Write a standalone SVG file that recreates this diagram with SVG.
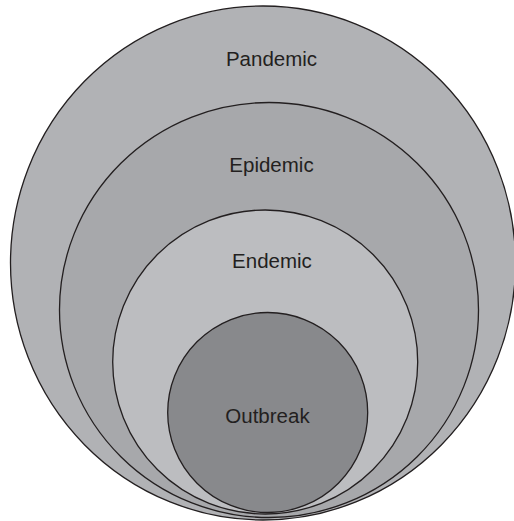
<svg xmlns="http://www.w3.org/2000/svg" width="514" height="521" viewBox="0 0 514 521">
<style>
.c{stroke:#231f20;stroke-width:1.3}
.t{font-family:"Liberation Sans",Arial,sans-serif;font-size:20.5px;fill:#231f20;text-anchor:middle}
</style>
<rect width="514" height="521" fill="#ffffff"/>
<g id="pandemic">
<ellipse class="c" cx="263" cy="263" rx="252.5" ry="257" fill="#b1b2b5"/>
<text class="t" x="271.5" y="66">Pandemic</text>
</g>
<g id="epidemic">
<ellipse class="c" cx="269" cy="310" rx="209.5" ry="207.5" fill="#a7a8ab"/>
<text class="t" x="271.5" y="172">Epidemic</text>
</g>
<g id="endemic">
<ellipse class="c" cx="265.2" cy="362" rx="152.5" ry="152" fill="#bcbdc0"/>
<text class="t" x="272" y="268">Endemic</text>
</g>
<g id="outbreak">
<circle class="c" cx="267.7" cy="412.5" r="100" fill="#88898c"/>
<text class="t" x="267.5" y="423">Outbreak</text>
</g>
<g id="connectors"></g>
</svg>
